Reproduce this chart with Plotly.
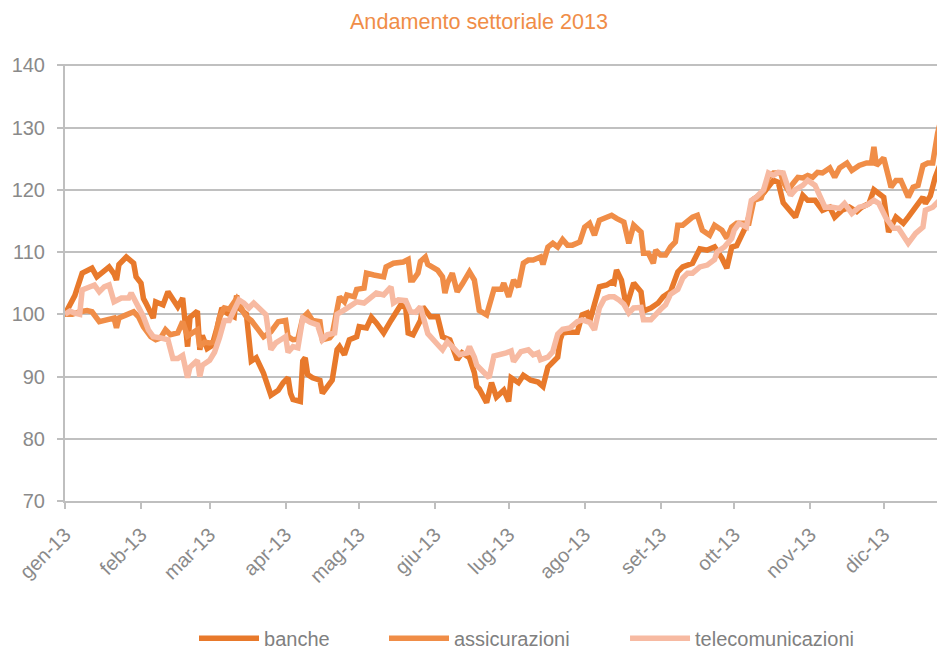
import pandas as pd
import plotly.graph_objects as go

# ---- data (days since 2013-01-01, index level) ----
banche_days = [0, 2, 4, 7, 10, 11, 13, 16, 18, 20, 21, 22, 25, 28, 29, 31, 32, 33, 35, 36, 37, 39, 40, 42, 44, 46, 48, 49, 50, 51, 54, 55, 56, 58, 60, 62, 64, 66, 69, 70, 71, 74, 75, 76, 78, 81, 84, 87, 89, 91, 92, 93, 96, 97, 98, 99, 101, 104, 105, 107, 109, 111, 112, 114, 116, 119, 120, 123, 125, 127, 130, 133, 136, 137, 139, 140, 142, 144, 145, 146, 148, 149, 152, 153, 154, 157, 160, 162, 165, 167, 168, 169, 172, 174, 176, 179, 181, 182, 185, 187, 190, 193, 195, 197, 201, 202, 203, 205, 207, 209, 211, 213, 214, 217, 218, 221, 223, 224, 225, 227, 229, 232, 235, 236, 239, 242, 244, 247, 250, 252, 256, 259, 262, 265, 266, 268, 270, 272, 274, 278, 281, 285, 289, 291, 293, 295, 298, 301, 303, 306, 309, 312, 314, 317, 320, 323, 325, 328, 330, 334, 336, 339, 342, 344, 347, 350, 351, 353, 355, 358, 359]
banche = [100, 101.5, 103, 106.6, 107.2, 107.4, 106, 106.8, 107.6, 106.5, 105.5, 108, 109.2, 108.2, 106, 105, 102.5, 101.8, 100, 99.4, 102, 101.5, 101.5, 103.6, 102.3, 101.2, 102.6, 98, 94.8, 99.5, 100.5, 94.3, 96.6, 94.5, 95, 97.8, 101, 100.2, 99.6, 103, 101, 100, 96, 92.5, 93, 90.5, 87, 87.8, 89, 89.8, 87.3, 86.3, 86, 92.5, 93, 90.3, 89.8, 89.4, 87.3, 88.4, 89.4, 94.3, 94.8, 93.5, 95.9, 96.4, 98, 97.8, 99.5, 98.6, 97, 99, 101.2, 101.5, 101, 97, 96.7, 98.3, 99, 101.2, 100, 99.6, 99.6, 97.8, 96.4, 95.9, 92.7, 93.8, 93, 90.6, 88.4, 88, 85.8, 89, 86.7, 87.8, 86, 89.8, 89, 90.2, 89.4, 89.1, 88.4, 91.5, 93.1, 95.9, 97, 97.1, 97, 97.1, 99.9, 100.2, 98.8, 102.8, 104.4, 104.7, 105.2, 105, 107.1, 105.5, 101.2, 105, 103.6, 100.5, 101, 101.8, 102.8, 103.6, 106.8, 107.6, 108.2, 110.5, 110.3, 110.8, 110.3, 109, 107.4, 110.8, 111, 114.3, 118.5, 119.5, 121.5, 121.2, 117.9, 117, 115.6, 119.1, 118.3, 118.3, 116.7, 117.2, 115.6, 116.7, 117.2, 116.5, 117.2, 117.8, 120, 118.8, 113.2, 115.6, 114.6, 115.6, 117.2, 118.8, 117.8, 119, 122, 125.1, 125.3]

assic_days = [0, 3, 6, 9, 11, 14, 17, 20, 21, 22, 25, 28, 30, 32, 35, 37, 39, 41, 43, 46, 48, 50, 52, 54, 55, 57, 59, 61, 63, 65, 67, 70, 73, 74, 76, 78, 81, 84, 87, 90, 91, 93, 95, 97, 99, 101, 104, 105, 108, 109, 111, 112, 114, 115, 118, 119, 122, 123, 126, 130, 131, 134, 138, 140, 141, 142, 144, 145, 147, 148, 152, 154, 155, 156, 158, 160, 162, 165, 167, 168, 169, 172, 175, 178, 179, 181, 183, 185, 187, 189, 191, 194, 195, 197, 199, 201, 203, 205, 207, 210, 212, 214, 216, 218, 221, 223, 225, 228, 230, 232, 235, 236, 238, 240, 241, 243, 245, 247, 249, 250, 252, 254, 256, 258, 260, 263, 265, 268, 270, 272, 274, 279, 281, 284, 285, 287, 289, 292, 293, 295, 297, 299, 301, 303, 305, 307, 309, 312, 314, 316, 319, 321, 324, 327, 329, 330, 331, 334, 336, 337, 339, 341, 344, 346, 348, 350, 352, 354, 356, 358, 359]
assicurazioni = [100, 100, 100.4, 100.6, 100.4, 98.8, 99.1, 99.4, 97.8, 99.4, 99.9, 100.4, 99.6, 98, 96.4, 95.9, 96.2, 97.5, 96.7, 97, 98.8, 96.5, 97, 97.5, 94.8, 95.5, 95.4, 95.5, 99.5, 101, 100.8, 102.5, 100.2, 99.6, 99, 98, 96.4, 97.2, 98.8, 99, 96.4, 95.9, 96, 99.4, 100.2, 99, 98.8, 95.9, 96.2, 96.7, 100.4, 102.8, 102, 103.1, 102.8, 104, 104.2, 106.6, 106.3, 106, 107.6, 108.2, 108.4, 108.8, 105.5, 105.5, 106.6, 108.5, 109.2, 108, 107.1, 106, 103.4, 105, 106.6, 103.6, 104.8, 106.8, 105.5, 103, 100.6, 99.9, 104, 104, 105, 102.8, 105.5, 104.4, 108.2, 108.7, 108.7, 109.2, 108, 110.8, 111.4, 110.8, 112, 111.1, 111.1, 111.6, 114, 114.6, 112.7, 115.1, 115.6, 115.9, 115.4, 114.8, 111.4, 114.3, 113.2, 109.8, 109.8, 108.2, 110.3, 109.5, 109.5, 110.8, 111.6, 114.3, 114.3, 115.1, 115.6, 115.9, 113.5, 112.7, 114.3, 113.5, 112.2, 114, 114.6, 114.6, 118.3, 118.7, 119.9, 122, 122.7, 122.7, 121.2, 119.9, 121, 122, 121.9, 122.3, 122, 122.8, 122.7, 123.5, 122, 123.5, 124.3, 123.1, 123.9, 124.3, 124.3, 126.9, 123.9, 125.1, 122, 120.4, 121.5, 121.5, 118.8, 120.4, 120.7, 123.9, 124.3, 124.3, 129.1, 132.3, 132.5]

tele_days = [0, 2, 4, 6, 7, 10, 12, 14, 16, 18, 20, 23, 26, 27, 29, 32, 34, 36, 39, 42, 44, 46, 48, 50, 51, 54, 55, 56, 59, 61, 63, 65, 67, 71, 73, 75, 77, 80, 82, 84, 86, 88, 90, 91, 93, 95, 97, 100, 103, 105, 107, 110, 111, 114, 116, 119, 122, 125, 127, 130, 133, 134, 136, 139, 141, 143, 145, 148, 150, 153, 154, 156, 158, 161, 164, 165, 167, 168, 171, 173, 175, 178, 180, 182, 183, 186, 189, 191, 193, 194, 197, 199, 201, 203, 206, 209, 211, 214, 216, 218, 220, 222, 224, 226, 228, 230, 232, 235, 236, 239, 241, 243, 245, 247, 250, 252, 254, 256, 259, 262, 265, 266, 269, 272, 273, 275, 278, 280, 282, 285, 287, 289, 291, 293, 296, 298, 301, 303, 306, 308, 310, 313, 316, 318, 321, 324, 327, 330, 332, 335, 338, 340, 342, 344, 347, 350, 351, 354, 356, 358, 359]
telecomunicazioni = [100, 100.5, 100.2, 100, 103.9, 104.4, 104.7, 103.6, 104.4, 104.7, 102, 102.6, 102.6, 103.4, 102, 99.6, 97.5, 96.4, 96.2, 95.9, 92.9, 92.9, 93.4, 89.8, 91.5, 92.6, 90, 91.8, 92.6, 93.9, 96.2, 99, 99, 102.3, 101.8, 101, 101.8, 100.6, 99.9, 94.3, 95.4, 95.9, 96.4, 93.9, 94.8, 94.6, 99.4, 98.7, 98.3, 95.9, 96.7, 97, 100, 100.7, 101.2, 102, 101.8, 102.7, 103.4, 103.1, 104.4, 101.8, 102.3, 102.2, 100.4, 100.3, 101.2, 96.9, 95.9, 94.7, 94.3, 95.6, 94.8, 93.5, 93.8, 94.8, 93.1, 91.8, 90.6, 89.8, 93.3, 93.5, 93.8, 94.1, 92.4, 94, 94.3, 93.5, 93.8, 92.7, 93.1, 94, 96.8, 97.6, 97.8, 98.8, 99.1, 98.7, 97.5, 101, 102.5, 102.8, 102.8, 102.3, 101.6, 100.2, 101, 101.1, 99.1, 99.1, 100.1, 100.8, 101.5, 103.2, 104, 105.8, 106.6, 106.6, 107.6, 107.9, 108.8, 110, 110.8, 112.2, 113.5, 114.6, 114, 118.3, 118.8, 120, 122.7, 122.3, 122.8, 122.7, 119.1, 120, 120.7, 121.5, 120.7, 118.7, 117.2, 117.2, 117, 117.8, 116.2, 117.2, 117.5, 118.3, 117.8, 115.4, 113.8, 113.8, 112.4, 111.4, 113, 114, 116.7, 117.2, 118, 118.8, 118.6]

month_ticks = ["2013-%02d-01" % m for m in range(1, 13)]
month_labels = ["gen-13", "feb-13", "mar-13", "apr-13", "mag-13", "giu-13",
                "lug-13", "ago-13", "set-13", "ott-13", "nov-13", "dic-13"]
y_ticks = [70, 80, 90, 100, 110, 120, 130, 140]

start = pd.Timestamp("2013-01-01")


def to_dates(days):
    return start + pd.to_timedelta(days, unit="D")


series = [
    ("banche", banche_days, banche, "#E8792B", "legend", 0.1466),
    ("assicurazioni", assic_days, assicurazioni, "#F08D47", "legend2", 0.3625),
    ("telecomunicazioni", tele_days, telecomunicazioni, "#F7BAA2", "legend3", 0.6364),
]

FONT = "Liberation Sans, Arial, sans-serif"
fig = go.Figure()
legends = {}
for name, d, v, c, lg, lx in series:
    fig.add_trace(go.Scatter(x=to_dates(d), y=v, name=name, mode="lines",
                             line=dict(color=c, width=5.5), legend=lg))
    legends[lg] = dict(orientation="h", x=lx, y=-0.3142, xanchor="left",
                       yanchor="middle",
                       font=dict(family=FONT, size=20, color="#808080"),
                       itemwidth=60, bgcolor="rgba(0,0,0,0)", borderwidth=0)

# page has an 8px body margin; figure sized so the plot lands where the reference has it
fig.update_layout(
    width=937, height=644,
    margin=dict(l=57, r=0, t=56, b=151, autoexpand=False),
    paper_bgcolor="white", plot_bgcolor="white",
    font=dict(family=FONT, color="#8A8A8A"),
    title=dict(text="Andamento settoriale 2013", x=0.5027, xanchor="center",
               y=0.9798, yanchor="middle",
               font=dict(family=FONT, size=21.6, color="#F08D47")),
    showlegend=True,
    **legends,
)
fig.update_xaxes(
    type="date", range=[start, to_dates([359])[0]],
    tickvals=month_ticks, ticktext=month_labels, tickangle=-45,
    tickfont=dict(size=20, color="#8A8A8A"),
    showgrid=False, showline=True, linecolor="#BFBFBF", linewidth=2,
    ticks="outside", ticklen=6, tickcolor="#BFBFBF", tickwidth=2,
    ticklabelstandoff=6, zeroline=False,
)
fig.update_yaxes(
    range=[70, 140.2], tickvals=y_ticks,
    tickfont=dict(size=20, color="#8A8A8A"),
    showgrid=True, gridcolor="#C0C0C0", gridwidth=2,
    showline=True, linecolor="#BFBFBF", linewidth=2,
    ticks="outside", ticklen=6, tickcolor="#BFBFBF", tickwidth=2,
    ticklabelstandoff=8, zeroline=False,
)

fig.write_html("out.html")
